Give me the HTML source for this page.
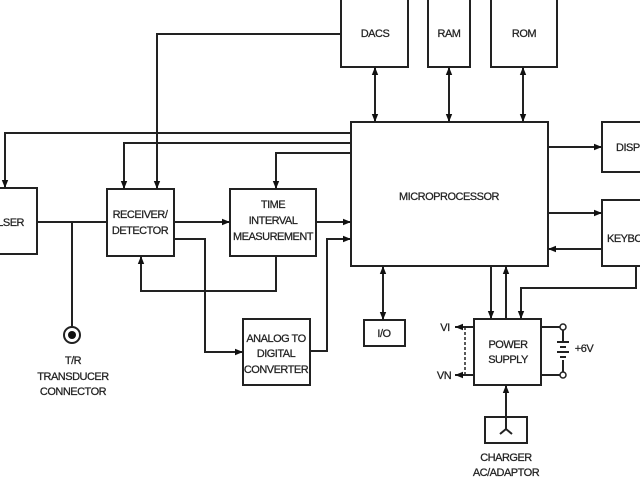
<!DOCTYPE html>
<html><head><style>
body{margin:0;background:#fff}
svg text{font-family:"Liberation Sans",sans-serif;font-size:11px;fill:#222;stroke:#222;stroke-width:0.25;text-anchor:middle;letter-spacing:-0.5px}
</style></head><body>
<svg width="640" height="480" viewBox="0 0 640 480" xmlns="http://www.w3.org/2000/svg">
<defs><marker id="a" viewBox="0 0 10 10" refX="10" refY="5" markerWidth="8" markerHeight="8" markerUnits="userSpaceOnUse" orient="auto-start-reverse"><path d="M0,1 L10,5 L0,9z" fill="#111"/></marker></defs>
<g fill="none" stroke="#222" stroke-width="2">
<rect x="341" y="-2" width="67" height="69"/>
<rect x="428" y="-2" width="42" height="69"/>
<rect x="491" y="-2" width="66" height="69"/>
<rect x="351" y="122" width="197" height="144"/>
<rect x="602" y="122" width="50" height="50"/>
<rect x="602" y="200" width="50" height="66"/>
<rect x="-5" y="188" width="42" height="66"/>
<rect x="107" y="189" width="67" height="67"/>
<rect x="230" y="189" width="86" height="67"/>
<rect x="243" y="319" width="67" height="66"/>
<rect x="364" y="320" width="41" height="26"/>
<rect x="474" y="319" width="67" height="66"/>
<rect x="485" y="417" width="42" height="26"/>
<circle cx="72" cy="335" r="8"/>
</g>
<circle cx="72" cy="335" r="4" fill="#111"/>
<g fill="none" stroke="#222" stroke-width="2" marker-end="url(#a)">
<path d="M341 34 H157 V189"/>
<path d="M351 133 H5 V188"/>
<path d="M351 143 H124 V189"/>
<path d="M351 153 H276 V189"/>
<path d="M174 222 H230"/>
<path d="M174 239 H205 V352 H243"/>
<path d="M316 222 H351"/>
<path d="M310 351 H327 V239 H351"/>
<path d="M276 256 V291 H141 V256"/>
<path d="M375 67 V122" marker-start="url(#a)"/>
<path d="M449 67 V122" marker-start="url(#a)"/>
<path d="M523 67 V122" marker-start="url(#a)"/>
<path d="M548 147 H602"/>
<path d="M548 213 H602"/>
<path d="M602 249 H548"/>
<path d="M383 266 V320" marker-start="url(#a)"/>
<path d="M491 266 V319"/>
<path d="M506 319 V266"/>
<path d="M636 266 V288 H521 V319"/>
<path d="M474 327 H455"/>
<path d="M474 375 H455"/>
<path d="M506 417 V385"/>
</g>
<g fill="none" stroke="#222" stroke-width="2">
<path d="M37 222 H107"/>
<path d="M72 222 V327"/>
<path d="M541 327 H563 M541 375 H563 M563 330 V342 M563 360 V372"/>
<path d="M557 342 H569 M560 347 H566 M557 352 H569 M560 357 H566"/>
<path d="M465 327 V375" stroke-dasharray="3,2" stroke-width="1.5"/>
<path d="M500 434 L506 429 L512 434 M506 429 V417"/>
</g>
<circle cx="563" cy="327" r="3" fill="#fff" stroke="#222" stroke-width="1.5"/>
<circle cx="563" cy="375" r="3" fill="#fff" stroke="#222" stroke-width="1.5"/>
<text x="375" y="37">DACS</text>
<text x="449" y="37">RAM</text>
<text x="524" y="37">ROM</text>
<text x="449" y="200">MICROPROCESSOR</text>
<text x="616" y="151" style="text-anchor:start">DISPLAY</text>
<text x="607" y="242" style="text-anchor:start">KEYBOARD</text>
<text x="24" y="226" style="text-anchor:end">PULSER</text>
<text x="140" y="218">RECEIVER/</text>
<text x="140" y="234">DETECTOR</text>
<text x="273" y="208">TIME</text>
<text x="273" y="224">INTERVAL</text>
<text x="273" y="240">MEASUREMENT</text>
<text x="276" y="342">ANALOG TO</text>
<text x="276" y="357">DIGITAL</text>
<text x="276" y="373">CONVERTER</text>
<text x="384" y="337">I/O</text>
<text x="508" y="348">POWER</text>
<text x="508" y="363">SUPPLY</text>
<text x="445" y="331">VI</text>
<text x="444" y="379">VN</text>
<text x="584" y="352">+6V</text>
<text x="73" y="364">T/R</text>
<text x="73" y="380">TRANSDUCER</text>
<text x="73" y="395">CONNECTOR</text>
<text x="506" y="461">CHARGER</text>
<text x="506" y="476">AC/ADAPTOR</text>
</svg>
</body></html>
